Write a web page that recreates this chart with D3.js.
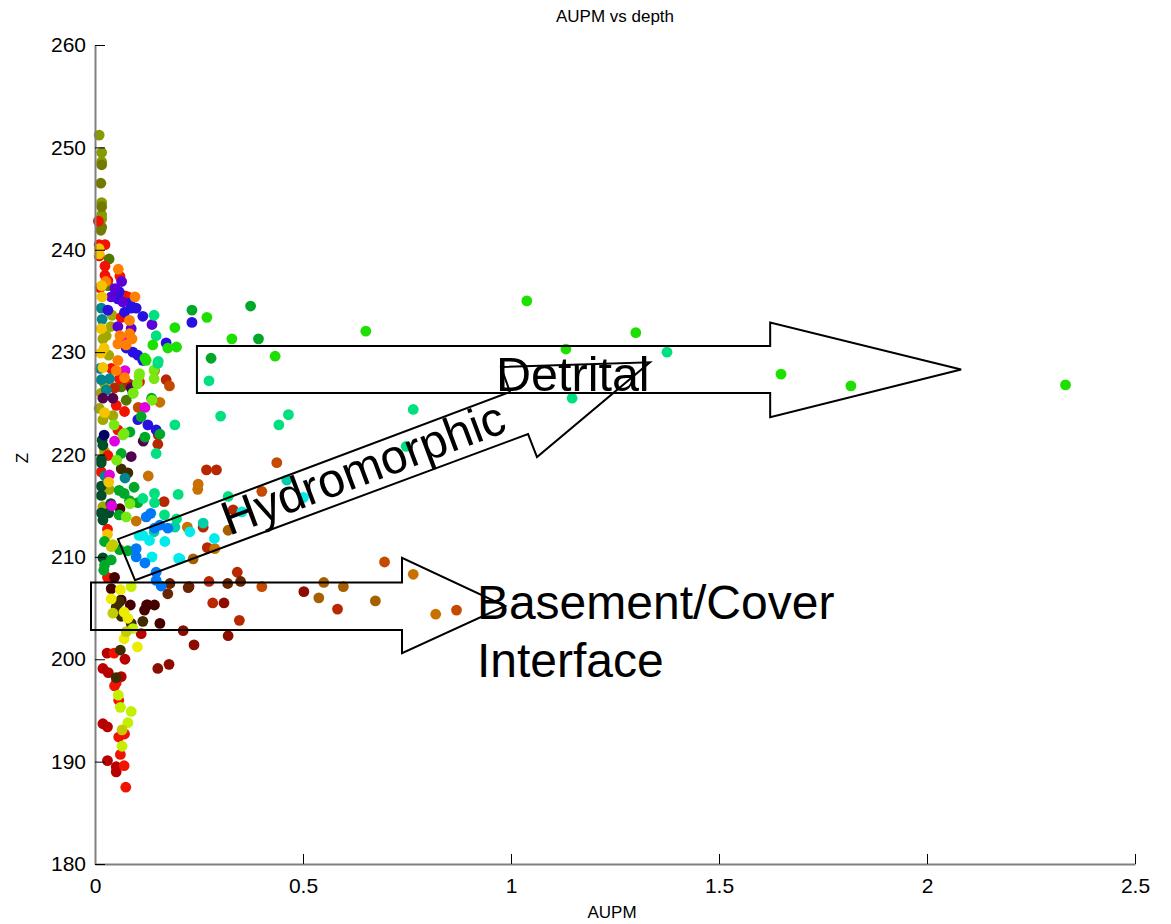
<!DOCTYPE html>
<html>
<head>
<meta charset="utf-8">
<script src="https://d3js.org/d3.v7.min.js"></script>
<style>
  body { margin: 0; background: #fff; }
  text { font-family: "Liberation Sans", Arial, sans-serif; }
</style>
</head>
<body>
<div class="svg-wrap"></div>
<script>
// ---- data: [AUPM, Z] pairs, one list per colour group ----
let olive = [[0.010,251.2],[0.016,249.5],[0.016,248.6],[0.016,244.6],[0.016,243.0],[0.016,243.4]];
let darkOlive = [[0.016,248.3],[0.014,246.5],[0.016,244.2],[0.016,242.2],[0.014,241.9]];
let oliveMid = [[0.041,233.6],[0.038,232.5],[0.019,231.3],[0.027,231.6],[0.033,229.7],[0.023,226.9],[0.015,226.0],
  [0.010,224.5],[0.043,223.8],[0.019,223.4],[0.023,220.3],[0.019,214.9],[0.034,216.6]];
let moss = [[0.034,239.1],[0.031,236.5],[0.063,226.6],[0.075,225.3]];
let red = [[0.008,242.8],[0.010,240.5],[0.024,240.5],[0.010,239.4],[0.024,238.4],[0.060,237.4],[0.024,237.5],[0.031,237.0],
  [0.012,236.3],[0.072,235.5],[0.079,235.4],[0.063,233.4],[0.039,228.4],[0.059,227.4],[0.107,227.1],[0.051,224.8],
  [0.071,224.2],[0.055,222.4],[0.031,219.9],[0.015,218.3],[0.030,212.7],[0.030,208.0],[0.046,200.6],[0.051,197.7],
  [0.047,197.4],[0.057,196.0],[0.057,192.4],[0.071,192.7],[0.061,190.7],[0.070,189.6],[0.074,187.5]];
let darkRed = [[0.019,199.1],[0.032,198.7],[0.063,198.3],[0.029,200.6],[0.072,200.0],[0.019,193.7],[0.030,193.4],
  [0.030,190.1],[0.051,189.5],[0.051,189.0],[0.111,202.5]];
let maroonRed = [[0.151,199.1],[0.178,199.5],[0.238,201.4],[0.212,202.8],[0.320,202.3],[0.502,206.6],[0.310,205.5],[0.226,207.1]];
let redBrown = [[0.171,227.3],[0.152,221.9],[0.151,221.0],[0.268,218.5],[0.292,218.5],[0.166,215.4],[0.260,212.9],
  [0.332,214.6],[0.270,210.9],[0.342,208.5],[0.274,207.6],[0.583,204.9],[0.283,205.5],[0.347,203.8],[0.081,226.9],[0.047,226.5]];
let rust = [[0.401,207.1],[0.696,209.5],[0.869,204.8],[0.143,228.2],[0.104,224.6],[0.179,226.7],[0.437,219.2],[0.401,216.4]];
let orangeBrown = [[0.156,225.1],[0.128,217.9],[0.247,216.6],[0.248,217.1],[0.222,212.9],[0.288,210.8],[0.765,208.3],
  [0.819,204.4],[0.099,213.5]];
let ochre = [[0.550,207.5],[0.538,206.0],[0.320,212.6],[0.597,207.1],[0.674,205.7],[0.236,209.8]];
let brownDark = [[0.350,207.6],[0.319,207.4],[0.224,207.0],[0.175,206.4],[0.180,207.4]];
let maroon = [[0.124,205.3],[0.085,205.3],[0.127,205.3],[0.143,205.3],[0.119,204.8],[0.156,203.5],[0.039,206.9],
  [0.047,208.0],[0.060,214.7],[0.063,205.8]];
let umber = [[0.059,205.6],[0.051,205.1],[0.063,204.2],[0.115,203.7],[0.087,203.5],[0.061,200.9],[0.051,198.2],
  [0.063,218.6],[0.079,218.2]];
let orange = [[0.056,238.1],[0.026,236.9],[0.096,235.4],[0.083,233.1],[0.060,231.6],[0.083,231.8],[0.089,231.3],
  [0.055,230.8],[0.075,230.7],[0.055,229.2],[0.051,228.2],[0.071,227.5]];
let gold = [[0.010,240.1],[0.010,239.6],[0.016,236.5],[0.017,235.4],[0.015,232.3],[0.022,230.4],[0.014,229.9],
  [0.019,228.5],[0.023,224.1],[0.033,217.3],[0.030,212.2]];
let yellow = [[0.061,206.8],[0.070,204.6],[0.079,204.0],[0.070,202.0],[0.102,201.2],[0.039,205.9]];
let yellowGreen = [[0.087,207.1],[0.091,203.0],[0.056,196.5],[0.061,195.3],[0.087,194.9],[0.079,193.8],[0.065,191.5]];
let khaki = [[0.065,193.1],[0.075,202.7],[0.043,211.2],[0.039,211.0],[0.043,204.5]];
let blue = [[0.058,235.9],[0.055,235.2],[0.084,234.8],[0.031,234.1],[0.071,233.9],[0.087,234.3],[0.099,234.3],
  [0.115,233.5],[0.233,232.9],[0.171,230.9],[0.075,230.4],[0.091,230.0],[0.103,229.7],[0.115,229.2],[0.103,223.4],
  [0.127,222.9],[0.147,222.4]];
let purple = [[0.064,236.9],[0.048,236.2],[0.039,235.4],[0.067,234.9],[0.137,232.7],[0.055,232.5],[0.087,232.3]];
let navy = [[0.022,221.9]];
let magenta = [[0.067,231.4],[0.072,228.2],[0.120,224.6],[0.047,221.3],[0.040,215.0],[0.035,218.0]];
let plum = [[0.087,226.5],[0.019,225.5],[0.043,225.5],[0.116,221.3],[0.087,219.8]];
let teal = [[0.015,234.3],[0.017,233.2],[0.012,228.4],[0.015,227.3],[0.035,227.4],[0.027,226.3],[0.072,217.7],[0.024,217.9]];
let darkGreen = [[0.017,221.4],[0.019,220.9],[0.015,219.5],[0.015,219.2],[0.015,216.9],[0.015,216.0],[0.038,215.2],
  [0.015,214.3],[0.033,214.3],[0.019,213.6],[0.019,209.9]];
let green = [[0.058,216.5],[0.094,216.8],[0.070,216.2],[0.083,215.5],[0.103,215.3],[0.058,214.1],[0.023,211.5],
  [0.059,210.7],[0.079,210.6],[0.039,209.7],[0.023,209.2],[0.021,208.7],[0.091,226.0],[0.136,225.5],[0.111,223.7],
  [0.156,222.0],[0.120,221.7],[0.063,220.1],[0.084,222.2],[0.233,234.1],[0.374,234.5],[0.393,231.3],[0.279,229.4]];
let brightGreen = [[0.139,230.7],[0.175,230.4],[0.196,230.5],[0.120,229.4],[0.433,229.6],[0.329,231.3],[0.651,232.05],
  [1.038,235.0],[1.300,231.9],[1.132,230.3],[1.649,227.85],[1.817,226.7],[2.333,226.8],[0.192,232.4],[0.269,233.4],[0.123,229.2]];
let lime = [[0.107,227.9],[0.142,228.25],[0.142,227.4],[0.106,227.65],[0.102,226.9],[0.092,226.0],[0.137,225.3],
  [0.052,219.45],[0.070,222.05],[0.067,221.9],[0.075,213.9],[0.046,222.9],[0.084,215.2]];
let spring = [[0.142,233.6],[0.147,231.6],[0.152,229.1],[0.151,228.9],[0.274,227.2],[0.302,223.75],[0.442,222.9],
  [0.465,223.9],[0.192,222.9],[0.147,220.1],[0.765,224.4],[0.748,220.8],[1.375,230.0],[1.147,225.5],[0.320,215.9],
  [0.200,216.1],[0.143,216.2],[0.115,215.7],[0.143,215.3],[0.167,214.1],[0.196,213.7]];
let aqua = [[0.461,217.5],[0.260,213.3],[0.142,212.45],[0.192,212.9]];
let cyan = [[0.501,215.8],[0.353,214.4],[0.228,212.45],[0.287,211.8],[0.204,209.8],[0.168,211.5],[0.137,210.0],
  [0.201,209.85],[0.131,211.6],[0.106,212.1],[0.115,212.1]];
let sky = [[0.134,214.25],[0.123,213.9],[0.175,212.8],[0.156,213.1],[0.143,212.8],[0.099,210.8],[0.099,210.0],
  [0.120,209.4],[0.147,208.5],[0.147,207.7],[0.159,207.15]];

let groups = [
  [olive, "#879a00"], [darkOlive, "#737a00"], [oliveMid, "#a3a800"], [moss, "#4e7800"],
  [darkRed, "#b80000"], [maroonRed, "#8c0c00"], [red, "#f01400"], [redBrown, "#b82800"], [rust, "#c44a00"],
  [orangeBrown, "#c87000"], [ochre, "#a66000"], [brownDark, "#6a2400"], [maroon, "#460000"], [umber, "#3e2c00"],
  [teal, "#00868e"], [darkGreen, "#004f2a"], [plum, "#520050"], [navy, "#000060"],
  [blue, "#2810e0"], [purple, "#5c00d8"], [magenta, "#e000e0"], [orange, "#ff8000"], [gold, "#f5c400"],
  [green, "#00a82a"], [lime, "#78e810"], [spring, "#00e080"], [aqua, "#00d0a8"], [cyan, "#00ecec"],
  [sky, "#0078f8"], [brightGreen, "#1ee000"], [yellow, "#ecec00"], [yellowGreen, "#c4f000"], [khaki, "#c2cc00"]
];

let xTicks = [0, 0.5, 1, 1.5, 2, 2.5];
let yTicks = [180, 190, 200, 210, 220, 230, 240, 250, 260];

// annotation arrows, in data units
let detritalArrow = [[0.245,230.6],[1.623,230.6],[1.623,232.9],[2.082,228.3],[1.623,223.65],[1.623,226.0],[0.245,226.0]];
let hydroArrow = [[0.0553,211.74],[0.9976,226.1],[0.976,228.54],[1.334,229.0],[1.0625,219.75],[1.041,222.0],[0.0962,207.73]];
let basementArrow = [[-0.0096,207.5],[0.738,207.5],[0.738,209.9],[0.986,205.2],[0.738,200.6],[0.738,202.85],[-0.0096,202.85]];

const W = 1171, H = 924;
const plot = { left: 95, right: 1135, top: 45, bottom: 864 };

let svg = d3.select(".svg-wrap")
  .append("svg")
  .attr("width", W)
  .attr("height", H)
  .style("background-color", "white");

let x = d3.scaleLinear().domain([0, 2.5]).range([plot.left, plot.right]);
let y = d3.scaleLinear().domain([180, 260]).range([plot.bottom, plot.top]);

// dots
groups.forEach(([pts, col]) => {
  svg.append("g").selectAll("circle")
    .data(pts)
    .enter()
    .append("circle")
    .attr("cx", d => x(d[0]))
    .attr("cy", d => y(d[1]))
    .attr("r", 5.4)
    .style("fill", col);
});

// axes
let xAxis = svg.append("g")
  .attr("transform", `translate(0,${plot.bottom})`)
  .call(d3.axisBottom(x).tickValues(xTicks).tickFormat(d => d)
    .tickSize(-10).tickSizeOuter(0).tickPadding(14));

let yAxis = svg.append("g")
  .attr("transform", `translate(${plot.left},0)`)
  .call(d3.axisLeft(y).tickValues(yTicks).tickFormat(d => d)
    .tickSize(-10).tickSizeOuter(0).tickPadding(9));

[xAxis, yAxis].forEach(a => {
  a.attr("font-family", null).attr("font-size", null);
  a.select(".domain").attr("stroke", "#808080").attr("stroke-width", 2);
  a.selectAll(".tick line").attr("stroke", "#000").attr("stroke-width", 1);
  a.selectAll(".tick text").style("font-size", "21px").attr("fill", "#000");
});

// titles
svg.append("text")
  .attr("x", 615).attr("y", 22)
  .attr("text-anchor", "middle")
  .style("font-size", "17px")
  .text("AUPM vs depth");

svg.append("text")
  .attr("x", 612).attr("y", 918)
  .attr("text-anchor", "middle")
  .style("font-size", "17px")
  .text("AUPM");

svg.append("text")
  .attr("transform", "translate(28,458) rotate(-90)")
  .attr("text-anchor", "middle")
  .style("font-size", "17px")
  .text("Z");

// annotation arrows
let line = d3.line().x(d => x(d[0])).y(d => y(d[1]));
[detritalArrow, hydroArrow, basementArrow].forEach(pts => {
  svg.append("path")
    .attr("d", line(pts) + "Z")
    .attr("fill", "none")
    .attr("stroke", "#000")
    .attr("stroke-width", 2)
    .attr("stroke-linejoin", "miter");
});

// annotation labels
svg.append("text")
  .attr("x", x(0.964)).attr("y", y(226.19))
  .style("font-size", "48.5px")
  .text("Detrital");

svg.append("text")
  .attr("transform", `translate(${x(0.322)},${y(212.03)}) rotate(-20.6)`)
  .style("font-size", "48px")
  .text("Hydromorphic");

svg.append("text")
  .attr("x", x(0.918)).attr("y", y(203.93))
  .style("font-size", "48px")
  .text("Basement/Cover");

svg.append("text")
  .attr("x", x(0.918)).attr("y", y(198.26))
  .style("font-size", "48px")
  .text("Interface");
</script>
</body>
</html>
